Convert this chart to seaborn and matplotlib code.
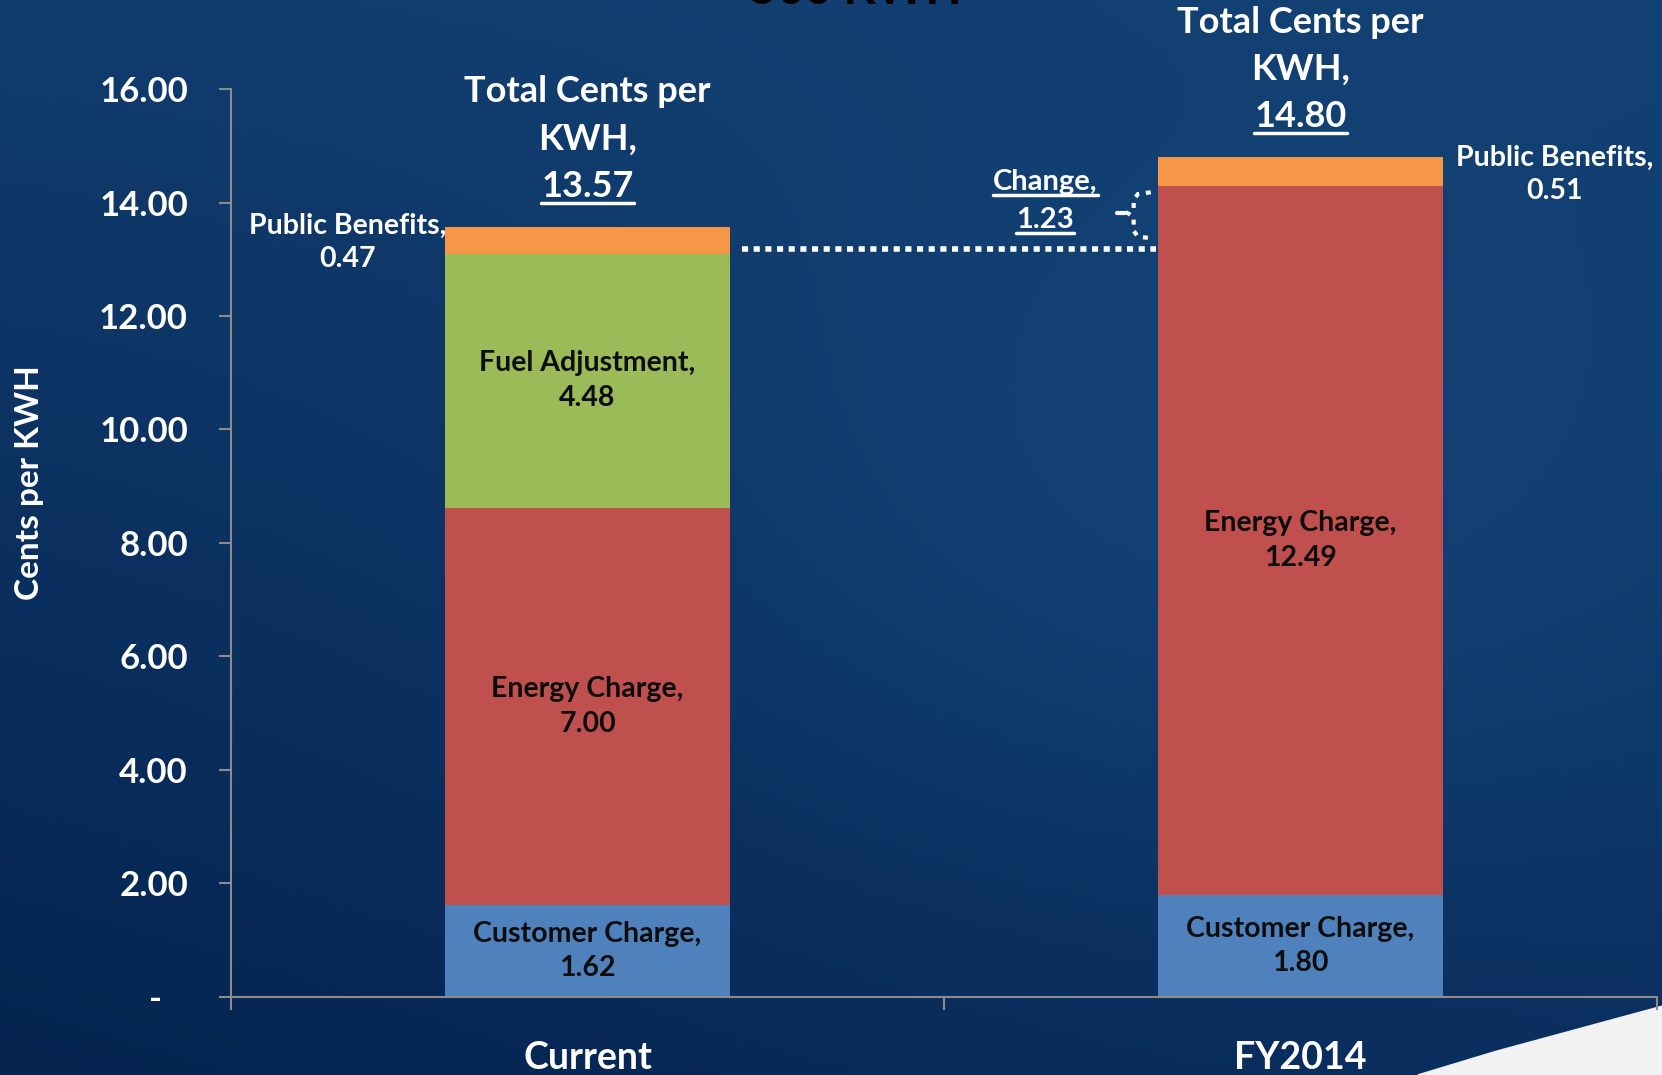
import numpy as np
import pandas as pd
import matplotlib.pyplot as plt
from matplotlib.lines import Line2D
from matplotlib.patches import Polygon
import seaborn as sns

# values (cents per KWH)
categories = ["Current", "FY2014"]
customer_charge = [1.62, 1.80]
energy_charge = [7.00, 12.49]
fuel_adjustment = [4.48, 0.00]
public_benefits = [0.47, 0.51]
totals = [13.57, 14.80]
change = 1.23
y_ticks = [0, 2, 4, 6, 8, 10, 12, 14, 16]

sns.set_theme(style="white")
plt.rcParams["font.family"] = ["Lato", "DejaVu Sans"]
plt.rcParams["font.weight"] = "bold"

df = pd.DataFrame({
    "category": categories,
    "customer": customer_charge,
    "energy": energy_charge,
    "fuel": fuel_adjustment,
    "public": public_benefits,
})
# cumulative heights for the stacked bars
df["lvl1"] = df["customer"]
df["lvl2"] = df["lvl1"] + df["energy"]
df["lvl3"] = df["lvl2"] + df["fuel"]
df["lvl4"] = df["lvl3"] + df["public"]

fig = plt.figure(figsize=(16.62, 10.75), dpi=100)

# background: dark blue slide gradient
bg = fig.add_axes([0, 0, 1, 1], zorder=-10)
gx, gy = np.meshgrid(np.linspace(0, 1, 200), np.linspace(0, 1, 200))
top_left = np.array([17, 60, 110]) / 255
top_right = np.array([19, 64, 114]) / 255
bot_left = np.array([5, 36, 80]) / 255
bot_right = np.array([10, 46, 94]) / 255
mid = np.array([26, 80, 136]) / 255
img = (top_left * ((1 - gx) * (1 - gy))[..., None] + top_right * (gx * (1 - gy))[..., None]
       + bot_left * ((1 - gx) * gy)[..., None] + bot_right * (gx * gy)[..., None])
glow = np.exp(-(((gx - 0.75) / 0.35) ** 2 + ((gy - 0.45) / 0.35) ** 2))[..., None]
img = img * (1 - 0.45 * glow) + mid * 0.45 * glow
bg.imshow(img, extent=[0, 1, 0, 1], aspect="auto", origin="upper")
bg.add_patch(Polygon([(0.853, 0), (0.90, 0.022), (0.95, 0.043), (1.0, 0.064), (1.0, 0)],
                     closed=True, color="#f2f2f2", transform=bg.transAxes))
bg.set_axis_off()

# cut-off slide title at the very top
fig.text(0.515, 0.996, "500 KWH", ha="center", va="baseline", fontsize=34,
         color="black", fontweight="bold")

ax = fig.add_axes([0.139, 0.0726, 0.858, 0.8446])
ax.set_facecolor("none")

layers = [("lvl4", "#f79646"), ("lvl3", "#9bbb59"), ("lvl2", "#c0504d"), ("lvl1", "#4f81bd")]
for col, colr in layers:
    sns.barplot(data=df, x="category", y=col, color=colr, width=0.4, saturation=1,
                errorbar=None, linewidth=0, ax=ax)

ax.set_xlim(-0.5, 1.5)
ax.set_ylim(0, 16)

# axes styling
axis_grey = "#8c8c8c"
for s in ["top", "right"]:
    ax.spines[s].set_visible(False)
for s in ["left", "bottom"]:
    ax.spines[s].set_color(axis_grey)
    ax.spines[s].set_linewidth(1.5)

ax.set_yticks(y_ticks)
ax.set_yticklabels(["-   "] + [f"{v:.2f}" for v in y_ticks[1:]])
ax.tick_params(axis="y", direction="out", length=9, width=1.5, color=axis_grey,
               labelcolor="white", labelsize=25, pad=22, left=True)
ax.set_xticks([0, 1])
ax.set_xticklabels(categories)
ax.set_xticks([-0.5, 0.5, 1.5], minor=True)
ax.tick_params(axis="x", which="major", length=0, labelcolor="white", labelsize=27, pad=32)
ax.tick_params(axis="x", which="minor", direction="out", length=9, width=1.5,
               color=axis_grey, bottom=True)
for lab in ax.get_xticklabels() + ax.get_yticklabels():
    lab.set_fontweight("bold")

ax.set_xlabel("")
ax.set_ylabel("Cents per KWH", color="white", fontsize=24, fontweight="bold")
ax.yaxis.set_label_coords(-0.131, 0.567)

# labels inside segments
seg_font = dict(ha="center", va="center", fontsize=20.5, fontweight="bold",
                color="#0d0d0d", linespacing=1.4)
for i, row in df.iterrows():
    ax.text(i, row["customer"] / 2, f"Customer Charge,\n{row['customer']:.2f}", **seg_font)
    ax.text(i, row["lvl1"] + row["energy"] / 2, f"Energy Charge,\n{row['energy']:.2f}", **seg_font)
    if row["fuel"] > 0:
        ax.text(i, row["lvl2"] + row["fuel"] / 2, f"Fuel Adjustment,\n{row['fuel']:.2f}", **seg_font)

# public benefits labels outside the bars
pb_font = dict(ha="center", va="center", fontsize=20.5, fontweight="bold",
               color="white", linespacing=1.35)
ax.text(-0.336, totals[0] - 0.27, f"Public Benefits,\n{public_benefits[0]:.2f}", **pb_font)
ax.text(1.356, totals[1] - 0.30, f"Public Benefits,\n{public_benefits[1]:.2f}", **pb_font)

# totals above bars
underlined = []
tot_font = dict(ha="center", va="center", fontsize=26, fontweight="bold", color="white")
for i, tot in enumerate(totals):
    yv = tot + 0.72
    underlined.append(ax.text(i, yv, f"{tot:.2f}", clip_on=False, **tot_font))
    ax.text(i, yv + 0.83, "KWH,", clip_on=False, **tot_font)
    ax.text(i, yv + 1.66, "Total Cents per", clip_on=False, **tot_font)

# change annotation
chg_font = dict(ha="center", va="center", fontsize=21, fontweight="bold", color="white")
underlined.append(ax.text(0.642, totals[0] + 0.12, f"{change:.2f}", **chg_font))
underlined.append(ax.text(0.642, totals[0] + 0.79, "Change,", **chg_font))

dot_style = dict(color="white", lw=4, linestyle=(0, (1.1, 1.0)), solid_capstyle="butt")
ax.plot([0.217, 0.798], [13.18, 13.18], **dot_style)
ax.plot([0.79, 0.772, 0.766, 0.766, 0.757, 0.766, 0.766, 0.772, 0.79],
        [14.18, 14.15, 14.05, 13.9, 13.82, 13.74, 13.5, 13.4, 13.37],
        color="white", lw=3, linestyle=(0, (1.2, 1.6)))
ax.plot([0.742, 0.754], [13.82, 13.82], color="white", lw=3)

# underline value texts
fig.canvas.draw()
inv = fig.transFigure.inverted()
for t in underlined:
    bb = t.get_window_extent()
    (x0, y0), (x1, _) = inv.transform([(bb.x0, bb.y0), (bb.x1, bb.y1)])
    fig.add_artist(Line2D([x0, x1], [y0, y0], color="white", lw=2.5,
                          transform=fig.transFigure))

fig.savefig("out.png", dpi=100)
